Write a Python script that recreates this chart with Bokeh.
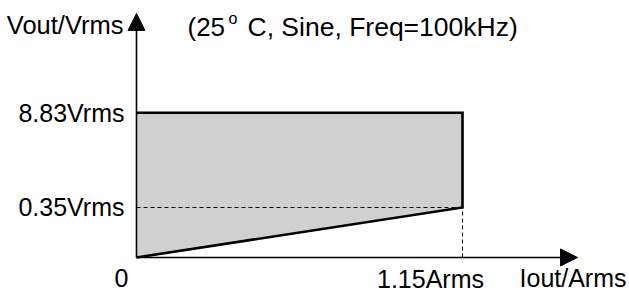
from bokeh.plotting import figure
from bokeh.models import Range1d, Label, Arrow, NormalHead
from bokeh.embed import file_html
from bokeh.resources import INLINE

# ---------------- data ----------------
i_points = [0.0, 1.15]        # Iout corner points (Arms)
v_low = [0.0, 0.35]           # lower boundary of the region (Vrms)
v_max = 8.83                  # upper limit (Vrms)
x_labels = ["0", "1.15Arms"]
y_labels = ["0.35Vrms", "8.83Vrms"]
title_parts = ["(25", "o", "C, Sine, Freq=100kHz)"]
x_title = "Iout/Arms"
y_title = "Vout/Vrms"

# schematic (non-linear) vertical axis: log scale of V + offset
V_OFF = 0.09


def yv(v):
    return v + V_OFF


# axis arrow tips (layout)
X_TIP = 1.5557
Y_TIP = 207.9
FONT = "Liberation Sans"
FS = "25px"

p = figure(width=629, height=294, output_backend="svg", toolbar_location=None,
           x_range=Range1d(-0.47975, 1.73911), y_range=Range1d(0.02780, 314.1),
           y_axis_type="log", x_axis_location=None, y_axis_location=None,
           min_border=0, background_fill_color="white", border_fill_color="white")
p.outline_line_color = None
p.grid.visible = False

# filled region
px = [i_points[0], i_points[0], i_points[1], i_points[1]]
py = [yv(v_low[0]), yv(v_max), yv(v_max), yv(v_low[1])]
p.patch(px, py, fill_color="#d0d0d0", line_color=None)

# dashed guide lines
p.line([i_points[0], i_points[1]], [yv(v_low[1]), yv(v_low[1])],
       line_color="black", line_width=1, line_dash="4 3")
p.line([i_points[1], i_points[1]], [yv(v_low[0]), yv(v_low[1])],
       line_color="black", line_width=1, line_dash="4 3")

# axes with arrows
p.add_layout(Arrow(end=NormalHead(size=17, fill_color="black", line_color="black", line_width=1),
                   x_start=0, y_start=yv(0), x_end=0, y_end=Y_TIP,
                   line_color="black", line_width=1.6))
p.add_layout(Arrow(end=NormalHead(size=17, fill_color="black", line_color="black", line_width=1),
                   x_start=0, y_start=yv(0), x_end=X_TIP, y_end=yv(0),
                   line_color="black", line_width=1.6))

# thick boundary
p.line([i_points[0], i_points[1], i_points[1], i_points[0]],
       [yv(v_low[0]), yv(v_low[1]), yv(v_max), yv(v_max)],
       line_color="black", line_width=2.6, line_join="miter")


def lab(text, x, y, xo, yo, align, base="middle", fs=FS):
    p.add_layout(Label(x=x, y=y, x_offset=xo, y_offset=yo, text=text,
                       text_align=align, text_baseline=base,
                       text_font=FONT, text_font_size=fs, text_color="black"))


lab(y_labels[1], 0, yv(v_max), -12, 0, "right")
lab(y_labels[0], 0, yv(v_low[1]), -12, 0, "right")
lab(x_labels[0], 0, yv(0), -15, -21, "center")
lab(x_labels[1], i_points[1], yv(0), -32, -22, "center")
lab(x_title, X_TIP, yv(0), 49, -21, "right")
lab(y_title, 0, Y_TIP, -13, -12, "right", fs="25.5px")
lab(title_parts[0], 0, Y_TIP, 51, -14, "left", "alphabetic", "26px")
lab(title_parts[1], 0, Y_TIP, 92, -5, "left", "alphabetic", "16px")
lab(title_parts[2], 0, Y_TIP, 111, -14, "left", "alphabetic", "26.5px")

open("out.html", "w").write(file_html(p, INLINE))
